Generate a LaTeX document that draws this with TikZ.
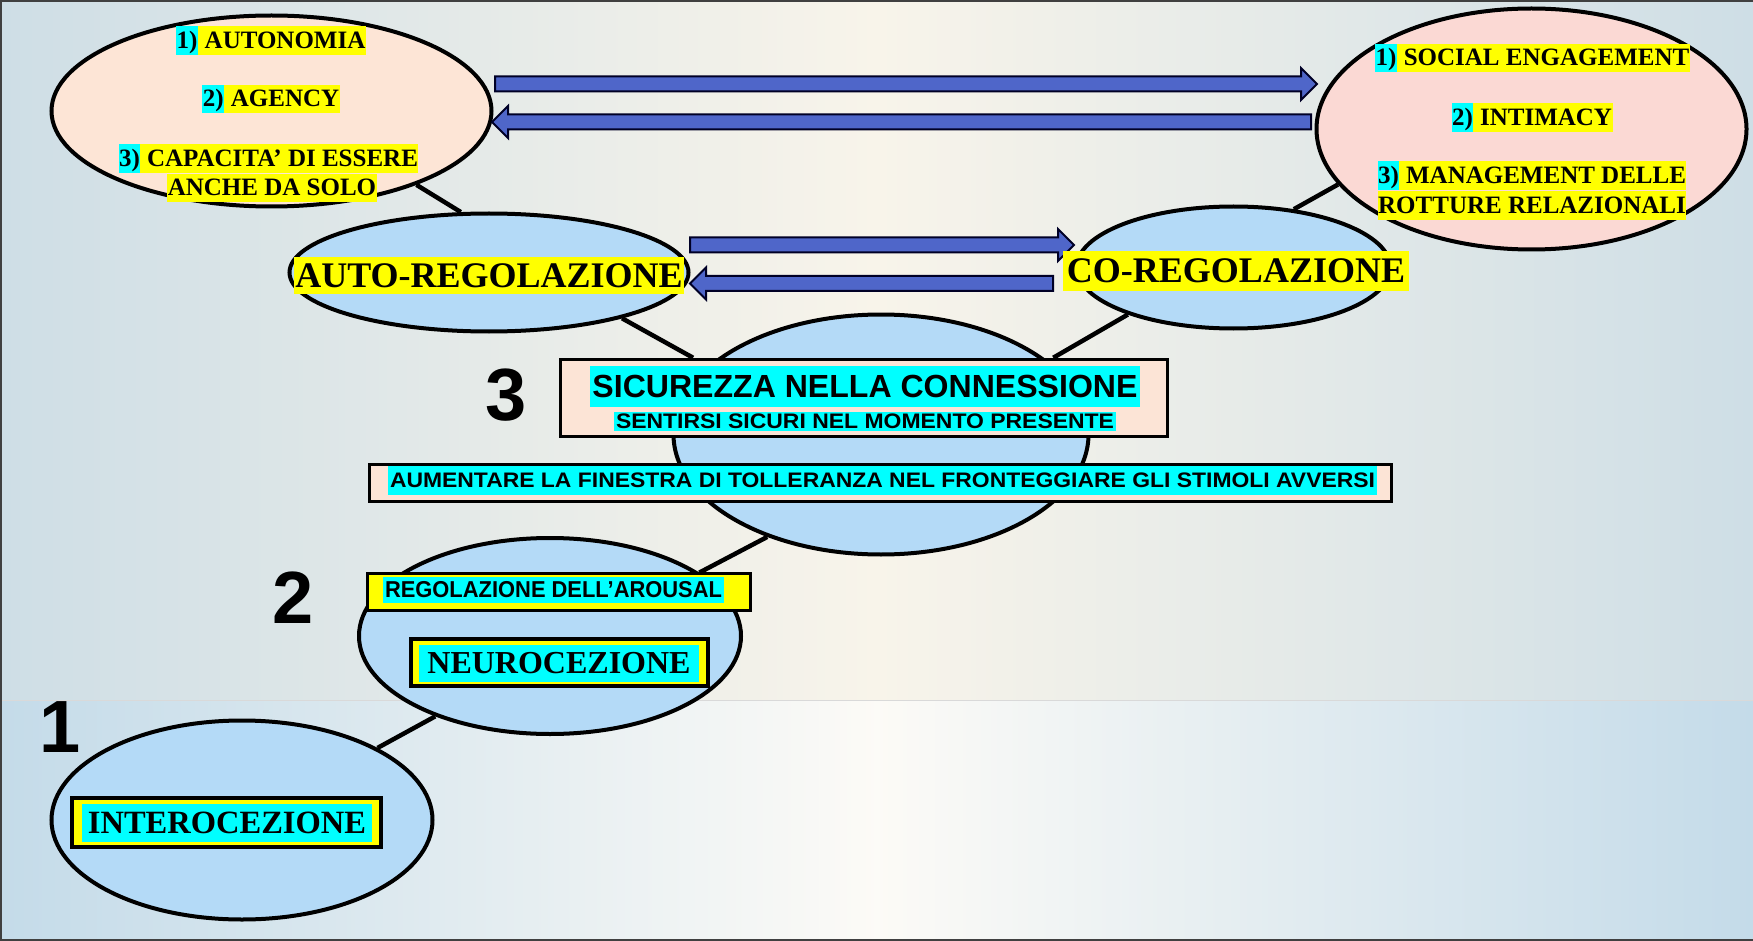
\documentclass[tikz,border=0pt]{standalone}
\usepackage{fontspec}
\setmainfont{Liberation Serif}
\newfontfamily\comicf{Liberation Sans}
\usetikzlibrary{shapes.geometric,calc}
\pgfdeclarelayer{bg}
\pgfdeclarelayer{lines}
\pgfsetlayers{bg,lines,main}
\definecolor{peachL}{RGB}{253,229,214}
\definecolor{pinkR}{RGB}{251,217,212}
\definecolor{ellblue}{RGB}{180,218,247}
\definecolor{boxpeach}{RGB}{252,228,214}
\definecolor{arrowblue}{RGB}{79,102,201}
\definecolor{hly}{RGB}{255,255,0}
\definecolor{hlc}{RGB}{0,255,255}
\definecolor{bgcream}{RGB}{248,244,234}
\definecolor{bgblue}{RGB}{206,222,230}
\definecolor{bgblue2}{RGB}{196,219,233}
\newcommand\hlt[2]{{\setlength{\fboxsep}{0.5pt}\colorbox{#1}{\rule[-0.24em]{0pt}{1.1em}#2}}}
\newcommand\barrow[2]{\draw[blockarrow] let \p1=(#1), \p2=(#2), \n1={sign(\x2-\x1)} in
  (\x1,\y1+7.5pt) -- (\x2-\n1*16pt,\y1+7.5pt) -- (\x2-\n1*16pt,\y1+16pt) -- (\x2,\y1)
  -- (\x2-\n1*16pt,\y1-16pt) -- (\x2-\n1*16pt,\y1-7.5pt) -- (\x1,\y1-7.5pt) -- cycle;}
\begin{document}
\begin{tikzpicture}[x=1pt,y=-1pt,
  ell/.style={ellipse, draw=black, line width=4pt, inner sep=0pt},
  conn/.style={line width=4.5pt, black},
  boxr/.style={rectangle, draw=black, line width=3.5pt, inner sep=0pt},
  blockarrow/.style={fill=arrowblue, draw=black!85!blue, line width=2pt, line join=miter},
  serifA/.style={inner sep=0pt, font=\bfseries\fontsize{25}{30}\selectfont},
  bigserif/.style={fill=hly, inner xsep=1pt, inner ysep=0pt, font=\bfseries\fontsize{36}{36}\selectfont},
  hlnode/.style={fill=hlc, inner sep=0pt},
  numb/.style={inner sep=0pt, font=\comicf\bfseries\fontsize{74}{74}\selectfont}]
\useasboundingbox (0,0) rectangle (1753,941);
\begin{pgfonlayer}{bg}
  \fill[bgcream] (0,0) rectangle (1753,941);
  \shade[left color=bgblue, right color=bgblue, middle color=bgcream] (0,0) rectangle (1753,700);
  \shade[left color=bgblue2, right color=bgblue2, middle color=white!60!bgcream] (0,700) rectangle (1753,941);
  \draw[line width=1pt, black!15] (0,700) -- (1753,700);
  \draw[line width=2.5pt, black!75] (1,941) -- (1,1) -- (1753,1);
  \draw[line width=2.5pt, black!75] (0,940) -- (1753,940);
\end{pgfonlayer}

% ellipses
\node[ell, fill=peachL, minimum width=440, minimum height=191] (tl) at (271.5,111) {};
\node[ell, fill=pinkR, minimum width=430, minimum height=241] (tr) at (1531.5,129) {};
\node[ell, fill=ellblue, minimum width=399, minimum height=118] (auto) at (489,272.5) {};
\node[ell, fill=ellblue, minimum width=314, minimum height=122] (co) at (1233.5,267.5) {};
\node[ell, fill=ellblue, minimum width=415, minimum height=240] (cen) at (881,434.5) {};
\node[ell, fill=ellblue, minimum width=382, minimum height=196] (neuro) at (550,636) {};
\node[ell, fill=ellblue, minimum width=381, minimum height=199] (intero) at (242,820) {};

% boxes
\node[boxr, fill=boxpeach, minimum width=607, minimum height=77] (sicbox) at (864,398) {};
\node[boxr, fill=boxpeach, minimum width=1022, minimum height=37] (aumbox) at (880.5,483) {};
\node[boxr, fill=hly, minimum width=383, minimum height=37] (regbox) at (559,592) {};
\node[boxr, fill=hly, line width=4pt, minimum width=297, minimum height=47] (neubox) at (559.5,662.5) {};
\node[boxr, fill=hly, line width=4pt, minimum width=309, minimum height=49] (intbox) at (226.5,822.5) {};

% connectors
\begin{pgfonlayer}{lines}
  \draw[conn] (tl.-27) -- (auto.115);
  \draw[conn] (tr.196) -- (co.44);
  \draw[conn] (auto.-19) -- ($(sicbox.north west)!0.22!(sicbox.north east)$);
  \draw[conn] (co.204.5) -- ($(sicbox.north west)!0.81!(sicbox.north east)$);
  \draw[conn] (cen.222) -- (neuro.23);
  \draw[conn] (neuro.215) -- (intero.28);
\end{pgfonlayer}

% block arrows
\coordinate (a1t) at (495,84);   \coordinate (a1h) at (1317,84);
\coordinate (a2t) at (1311,122); \coordinate (a2h) at (492,122);
\coordinate (a3t) at (690,245);  \coordinate (a3h) at (1074,245);
\coordinate (a4t) at (1053,283.5); \coordinate (a4h) at (690,283.5);
\barrow{a1t}{a1h}
\barrow{a2t}{a2h}
\barrow{a3t}{a3h}
\barrow{a4t}{a4h}

% texts top-left
\node[serifA] (tl1) at (271,40.5) {\hlt{hlc}{1)}\hlt{hly}{\ AUTONOMIA}};
\node[serifA] (tl2) at (271,99) {\hlt{hlc}{2)}\hlt{hly}{\ AGENCY}};
\node[serifA] (tl3) at (268.5,158.5) {\hlt{hlc}{3)}\hlt{hly}{\ CAPACITA’ DI ESSERE}};
\node[serifA] (tl4) at (272,188) {\hlt{hly}{ANCHE DA SOLO}};
% texts top-right
\node[serifA] (tr1) at (1532.5,58) {\hlt{hlc}{1)}\hlt{hly}{\ SOCIAL ENGAGEMENT}};
\node[serifA] (tr2) at (1532,117.5) {\hlt{hlc}{2)}\hlt{hly}{\ INTIMACY}};
\node[serifA] (tr3) at (1532,175.5) {\hlt{hlc}{3)}\hlt{hly}{\ MANAGEMENT DELLE}};
\node[serifA] (tr4) at (1532,205.5) {\hlt{hly}{ROTTURE RELAZIONALI}};

\node[bigserif, minimum height=37] (autoT) at (489,275.5) {AUTO-REGOLAZIONE};
\node[bigserif, inner xsep=4pt, minimum height=40] (coT) at (1236,271) {CO-REGOLAZIONE};

% comic texts
\node[hlnode, minimum width=550, minimum height=41] (sicT) at (865,386.5)
  {\comicf\bfseries\fontsize{32}{32}\selectfont\resizebox{545pt}{\height}{SICUREZZA NELLA CONNESSIONE}};
\node[hlnode, minimum width=502, minimum height=19.5] (senT) at (865,421.5)
  {\comicf\bfseries\fontsize{21}{21}\selectfont\resizebox{498pt}{\height}{SENTIRSI SICURI NEL MOMENTO PRESENTE}};
\node[hlnode, minimum width=989, minimum height=29] (aumT) at (882.5,480.5)
  {\comicf\bfseries\fontsize{21}{21}\selectfont\resizebox{985pt}{\height}{AUMENTARE LA FINESTRA DI TOLLERANZA NEL FRONTEGGIARE GLI STIMOLI AVVERSI}};
\node[hlnode, minimum width=341, minimum height=26] (regT) at (553.5,590)
  {\comicf\bfseries\fontsize{23}{23}\selectfont\resizebox{337pt}{\height}{REGOLAZIONE DELL’AROUSAL}};
\node[hlnode, minimum width=280, minimum height=37, font=\bfseries\fontsize{32}{32}\selectfont] (neuT) at (559,663.5) {NEUROCEZIONE};
\node[hlnode, minimum width=290, minimum height=38, font=\bfseries\fontsize{32.5}{32.5}\selectfont] (intT) at (227,823) {INTEROCEZIONE};

% numbers
\node[numb] (n3) at (506,395) {3};
\node[numb] (n2) at (293,598) {2};
\node[numb] (n1) at (60,727) {1};
\end{tikzpicture}
\end{document}
